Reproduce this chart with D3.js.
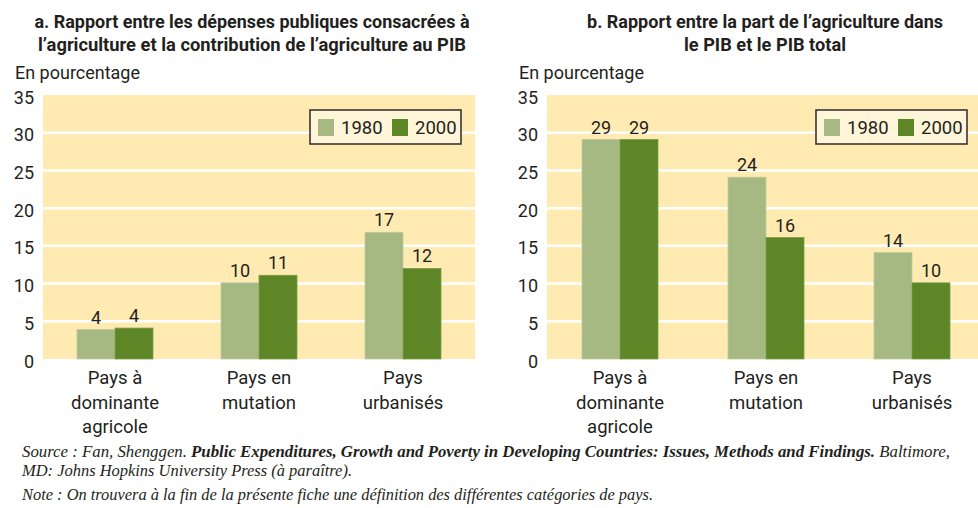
<!DOCTYPE html>
<html>
<head>
<meta charset="utf-8">
<script src="https://cdn.jsdelivr.net/npm/d3@7"></script>
<style>
  body { margin: 0; background: #fff; }
  svg { display: block; }
  text { fill: #231f20; }
</style>
</head>
<body>
<div id="chart"></div>
<script>
// categories (multi-line labels)
const categories = [["Pays à", "dominante", "agricole"], ["Pays en", "mutation"], ["Pays", "urbanisés"]];
const series = ["1980", "2000"];
const yTicks = [0, 5, 10, 15, 20, 25, 30, 35];

// panel a : dépenses publiques / contribution au PIB
const valuesA1980 = [3.9, 10.1, 16.8];
const valuesA2000 = [4.1, 11.1, 12.0];
const labelsA1980 = ["4", "10", "17"];
const labelsA2000 = ["4", "11", "12"];

// panel b : part de l'agriculture dans le PIB
const valuesB1980 = [29.1, 24.1, 14.1];
const valuesB2000 = [29.1, 16.1, 10.1];
const labelsB1980 = ["29", "24", "14"];
const labelsB2000 = ["29", "16", "10"];

const titleA = ["a. Rapport entre les dépenses publiques consacrées à", "l’agriculture et la contribution de l’agriculture au PIB"];
const titleB = ["b. Rapport entre la part de l’agriculture dans", "le PIB et le PIB total"];

const colors = { "1980": "#a7b982", "2000": "#5d8727" };
const font = "Roboto, 'Liberation Sans Narrow', Arial, sans-serif";

const W = 978, H = 508;
const svg = d3.select("#chart").append("svg")
    .attr("width", W)
    .attr("height", H);

const defs = svg.append("defs");

function drawPanel(p) {
    const y = d3.scaleLinear().domain([0, 35]).range([359, 95]);
    const x0 = d3.scaleBand().domain(d3.range(categories.length)).range([p.x0, p.x1]);
    const x1 = d3.scaleBand().domain(series).range([x0.bandwidth() / 2 - 38, x0.bandwidth() / 2 + 38]);

    // clip to picture edge
    defs.append("clipPath").attr("id", "clip" + p.id)
        .append("rect").attr("x", p.x0).attr("y", 0).attr("width", Math.min(p.x1, W) - p.x0).attr("height", H);

    const g = svg.append("g");

    // titre (condensé via textLength)
    g.append("text")
        .attr("text-anchor", "middle")
        .style("font-family", font)
        .style("font-weight", "bold")
        .style("font-size", "18px")
        .selectAll("tspan")
        .data(p.title)
        .enter().append("tspan")
        .attr("x", p.titleX)
        .attr("y", (d, i) => 28 + i * 23)
        .attr("textLength", (d, i) => p.titleLen[i])
        .attr("lengthAdjust", "spacingAndGlyphs")
        .text(d => d);

    g.append("text")
        .attr("x", p.x0 - 28)
        .attr("y", 79)
        .attr("textLength", 125)
        .attr("lengthAdjust", "spacingAndGlyphs")
        .style("font-family", font)
        .style("font-size", "18px")
        .text("En pourcentage");

    const plot = g.append("g").attr("clip-path", `url(#clip${p.id})`);

    // fond
    plot.append("rect")
        .attr("x", p.x0)
        .attr("y", y(35))
        .attr("width", p.x1 - p.x0)
        .attr("height", y(0) - y(35))
        .attr("fill", "#ffebb1");

    // grille
    plot.selectAll(".grid")
        .data(yTicks.filter(d => d > 0 && d < 35))
        .enter().append("line")
        .attr("x1", p.x0)
        .attr("x2", p.x1)
        .attr("y1", d => y(d))
        .attr("y2", d => y(d))
        .attr("stroke", "#fff")
        .attr("stroke-width", 2.5);

    // axe Y
    const yAxis = g.append("g")
        .attr("transform", `translate(${p.x0}, 0)`)
        .call(d3.axisLeft(y).tickValues(yTicks).tickSize(0).tickPadding(9));
    yAxis.select(".domain").remove();
    yAxis.selectAll("text")
        .attr("dy", "0.45em")
        .style("font-family", font)
        .style("font-size", "18px")
        .style("fill", "#231f20");

    // barres
    const rows = categories.map((c, i) => ({ i, v: { "1980": p.v1980[i], "2000": p.v2000[i] }, l: { "1980": p.l1980[i], "2000": p.l2000[i] } }));
    const groups = plot.selectAll(".grp")
        .data(rows)
        .enter().append("g")
        .attr("transform", d => `translate(${x0(d.i)}, 0)`);

    groups.selectAll("rect")
        .data(d => series.map(s => ({ s, v: d.v[s] })))
        .enter().append("rect")
        .attr("x", d => x1(d.s))
        .attr("y", d => y(d.v))
        .attr("width", x1.bandwidth())
        .attr("height", d => y(0) - y(d.v))
        .attr("fill", d => colors[d.s])
        .attr("stroke", d => d.s === "1980" ? "#bccb9a" : "#7a9c4a")
        .attr("stroke-width", 0.8);

    groups.selectAll(".val")
        .data(d => series.map(s => ({ s, v: d.v[s], l: d.l[s] })))
        .enter().append("text")
        .attr("x", d => x1(d.s) + x1.bandwidth() / 2)
        .attr("y", d => y(d.v) - 6)
        .attr("text-anchor", "middle")
        .style("font-family", font)
        .style("font-size", "18px")
        .text(d => d.l);

    // étiquettes des catégories
    g.selectAll(".cat")
        .data(rows)
        .enter().append("text")
        .attr("text-anchor", "middle")
        .style("font-family", font)
        .style("font-size", "18.5px")
        .selectAll("tspan")
        .data(d => categories[d.i].map(t => ({ t, cx: x0(d.i) + x0.bandwidth() / 2 })))
        .enter().append("tspan")
        .attr("x", d => d.cx)
        .attr("y", (d, i) => 384 + i * 24.5)
        .text(d => d.t);

    // légende
    const lg = g.append("g").attr("transform", `translate(${p.legendX}, 110)`);
    lg.append("rect")
        .attr("width", 151)
        .attr("height", 34)
        .attr("fill", "#fff5d8")
        .attr("stroke", "#3a3532")
        .attr("stroke-width", 1.6);
    series.forEach((s, i) => {
        lg.append("rect")
            .attr("x", 8 + i * 74)
            .attr("y", 9)
            .attr("width", 16)
            .attr("height", 17)
            .attr("fill", colors[s]);
        lg.append("text")
            .attr("x", 31 + i * 74)
            .attr("y", 24)
            .style("font-family", font)
            .style("font-size", "18.5px")
            .text(s);
    });
}

drawPanel({ id: "a", x0: 43, x1: 475, titleX: 252, title: titleA, titleLen: [435, 428], legendX: 310,
    v1980: valuesA1980, v2000: valuesA2000, l1980: labelsA1980, l2000: labelsA2000 });
drawPanel({ id: "b", x0: 547, x1: 985, titleX: 765, title: titleB, titleLen: [356, 162], legendX: 816,
    v1980: valuesB1980, v2000: valuesB2000, l1980: labelsB1980, l2000: labelsB2000 });

// source et note
const serif = "'Liberation Serif', 'DejaVu Serif', serif";
const src = svg.append("g")
    .style("font-family", serif)
    .style("font-style", "italic")
    .style("font-size", "16px");

const l1 = src.append("text").attr("x", 22).attr("y", 457)
    .attr("textLength", 928).attr("lengthAdjust", "spacingAndGlyphs");
l1.append("tspan").text("Source : Fan, Shenggen. ");
l1.append("tspan").style("font-weight", "bold")
    .text("Public Expenditures, Growth and Poverty in Developing Countries: Issues, Methods and Findings.");
l1.append("tspan").text(" Baltimore,");

src.append("text").attr("x", 22).attr("y", 476)
    .attr("textLength", 330).attr("lengthAdjust", "spacingAndGlyphs")
    .text("MD: Johns Hopkins University Press (à paraître).");

src.append("text").attr("x", 22).attr("y", 500)
    .attr("textLength", 631).attr("lengthAdjust", "spacingAndGlyphs")
    .text("Note : On trouvera à la fin de la présente fiche une définition des différentes catégories de pays.");
</script>
</body>
</html>
